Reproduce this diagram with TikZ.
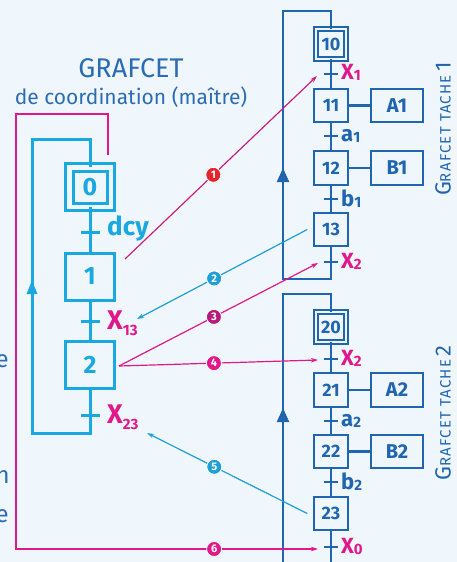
\documentclass[tikz,border=0pt]{standalone}
\usepackage{fontspec}
\setmainfont{Fira Sans}
\usetikzlibrary{positioning, arrows.meta}

\definecolor{bgpage}{HTML}{F0F7FC}
\definecolor{mastercol}{HTML}{1AA8E0}
\definecolor{taskcol}{HTML}{1F65B0}
\definecolor{titlecol}{HTML}{2B6CB4}
\definecolor{linkpink}{HTML}{E0188C}
\definecolor{linkplum}{HTML}{C8207E}
\definecolor{linkcyan}{HTML}{1E9FD6}
\definecolor{numred}{HTML}{E6242B}
\definecolor{numplum}{HTML}{B8197A}

% index below a letter: size, drop, text
\newcommand{\lowidx}[3]{\raisebox{-#2}{\fontsize{#1}{#1}\selectfont #3}}

\begin{document}
\begin{tikzpicture}[
  x=1pt, y=-1pt,
  mstep/.style={draw=mastercol, line width=3pt, minimum width=49pt, minimum height=47pt,
    inner sep=0pt, outer sep=0pt, text=mastercol, font=\fontsize{25}{25}\selectfont\bfseries},
  minit/.style={mstep, double=bgpage, double distance=4.5pt, minimum width=41.5pt, minimum height=39.5pt},
  tstep/.style={draw=taskcol, line width=2.2pt, minimum size=33.5pt,
    inner sep=0pt, outer sep=0pt, text=taskcol, font=\fontsize{18}{18}\selectfont\bfseries},
  tinit/.style={tstep, double=bgpage, double distance=1.8pt, minimum size=29.8pt},
  action/.style={tstep, minimum width=52pt, font=\fontsize{20}{20}\selectfont\bfseries},
  mline/.style={draw=mastercol, line width=3pt},
  tline/.style={draw=taskcol, line width=2.2pt},
  mlabel/.style={inner sep=0pt, anchor=west, font=\fontsize{27}{27}\selectfont\bfseries},
  tlabel/.style={inner sep=0pt, anchor=west, font=\fontsize{22}{22}\selectfont\bfseries},
  title/.style={text=titlecol, inner sep=0pt},
  tasktitle/.style={rotate=90, text=taskcol, inner sep=0pt},
  link/.style={line width=1.2pt, -{Stealth[length=7pt, width=4.5pt]}},
  num/.style={circle, draw=white, line width=0.8pt, text=white, inner sep=0pt,
    minimum size=15pt, font=\fontsize{11}{11}\selectfont\bfseries}
]

\fill[bgpage] (0,0) rectangle (457,562);
\useasboundingbox (0,0) rectangle (457,562);

% -------------------------
% Titles
% -------------------------

\node[title, font=\fontsize{27}{27}\selectfont] (ttl) at (131,68) {GRAFCET};
\node[title, font=\fontsize{21}{21}\selectfont, below=9pt of ttl] (subttl) {de coordination (maître)};

% cut text on the left border
\node[text=titlecol, inner sep=0pt, anchor=base east, font=\fontsize{24}{24}\selectfont] (cut1) at (9,367) {e};
\node[text=titlecol, inner sep=0pt, anchor=base east, font=\fontsize{24}{24}\selectfont] (cut2) at (10,483) {n};
\node[text=titlecol, inner sep=0pt, anchor=base east, font=\fontsize{24}{24}\selectfont] (cut3) at (9,522) {e};

% -------------------------
% Master grafcet
% -------------------------

\node[minit] (s0) at (90,187) {0};
\node[mstep] (s1) at (90,276.5) {1};
\node[mstep] (s2) at (90,364.5) {2};

\coordinate (tdcy) at (90,232);
\coordinate (tx13) at (90,321);
\coordinate (tx23) at (90,415);
\coordinate (mtop) at (32,139);
\coordinate (mbot) at (32,433);
\coordinate (marrow) at (32,280);

\draw[mline] (s0.south) -- (s1.north);
\draw[mline] (s1.south) -- (s2.north);
\draw[mline] (s2.south) -- (tx23);
\draw[mline] (s0.north) |- (mtop) -- (mbot) -| (tx23);
\draw[mline, -{Triangle[length=14pt, width=10pt]}] (mbot) -- (marrow);

\foreach \t in {tdcy, tx13, tx23}
  \draw[mline] ([xshift=-9.5pt]\t) -- ([xshift=9.5pt]\t);

\node[mlabel, text=mastercol, font=\fontsize{26}{26}\selectfont\bfseries, right=17pt of tdcy, yshift=3pt] (ldcy) {dcy};
\node[mlabel, text=linkpink, right=17pt of tx13, yshift=-2pt] (lx13) {X\lowidx{15}{6pt}{13}};
\node[mlabel, text=linkpink, right=17pt of tx23, yshift=-2pt] (lx23) {X\lowidx{15}{6pt}{23}};

% -------------------------
% Task 1
% -------------------------

\node[tinit] (s10) at (331,44) {10};
\node[tstep] (s11) at (331,105.5) {11};
\node[tstep] (s12) at (331,168) {12};
\node[tstep] (s13) at (331,229.5) {13};
\node[action] (a1) at (397,105.5) {A1};
\node[action] (b1) at (397,168) {B1};

\coordinate (tx1) at (331,74);
\coordinate (ta1) at (331,136);
\coordinate (tb1) at (331,199);
\coordinate (tx2a) at (331,262);
\coordinate (t1top) at (283,11);
\coordinate (t1bot) at (283,279);
\coordinate (t1arrow) at (283,168);

\draw[tline] (s10) -- (s11) -- (s12) -- (s13);
\draw[tline] (s13.south) -- (tx2a);
\draw[tline] (s10.north) |- (t1top) -- (t1bot) -| (tx2a);
\draw[tline, -{Triangle[length=14pt, width=12pt]}] (t1bot) -- (t1arrow);
\draw[tline] (s11) -- (a1);
\draw[tline] (s12) -- (b1);

\foreach \t in {tx1, ta1, tb1, tx2a}
  \draw[tline] ([xshift=-7pt]\t) -- ([xshift=7pt]\t);

\node[tlabel, text=linkpink, right=10pt of tx1, yshift=2pt] (lx1) {X\lowidx{15}{1pt}{1}};
\node[tlabel, text=taskcol, right=10pt of ta1] (la1) {a\lowidx{15}{1pt}{1}};
\node[tlabel, text=taskcol, right=10pt of tb1] (lb1) {b\lowidx{15}{1pt}{1}};
\node[tlabel, text=linkpink, right=10pt of tx2a, yshift=1pt] (lx2a) {X\lowidx{15}{1pt}{2}};

\node[tasktitle] (task1) at (443,129)
  {\addfontfeature{LetterSpace=8}{\fontsize{22}{22}\selectfont G}{\fontsize{15}{15}\selectfont RAFCET TACHE} {\fontsize{22}{22}\selectfont 1}};

% -------------------------
% Task 2
% -------------------------

\node[tinit] (s20) at (331,327) {20};
\node[tstep] (s21) at (331,390) {21};
\node[tstep] (s22) at (331,451.5) {22};
\node[tstep] (s23) at (331,513.5) {23};
\node[action] (a2) at (397,390) {A2};
\node[action] (b2) at (397,451.5) {B2};

\coordinate (tx2b) at (331,359);
\coordinate (ta2) at (331,421);
\coordinate (tb2) at (331,482);
\coordinate (tx0) at (331,547);
\coordinate (t2top) at (283,294);
\coordinate (t2bot) at (283,575);
\coordinate (t2end) at (331,575);
\coordinate (t2arrow) at (283,408);

\draw[tline] (s20) -- (s21) -- (s22) -- (s23);
\draw[tline] (s23.south) -- (t2end);
\draw[tline] (s20.north) |- (t2top) -- (t2bot);
\draw[tline, -{Triangle[length=14pt, width=12pt]}] (t2bot) -- (t2arrow);
\draw[tline] (s21) -- (a2);
\draw[tline] (s22) -- (b2);

\foreach \t in {tx2b, ta2, tb2, tx0}
  \draw[tline] ([xshift=-7pt]\t) -- ([xshift=7pt]\t);

\node[tlabel, text=linkpink, right=10pt of tx2b, yshift=1pt] (lx2b) {X\lowidx{15}{1pt}{2}};
\node[tlabel, text=taskcol, right=10pt of ta2] (la2) {a\lowidx{15}{1pt}{2}};
\node[tlabel, text=taskcol, right=10pt of tb2] (lb2) {b\lowidx{15}{1pt}{2}};
\node[tlabel, text=linkpink, right=10pt of tx0, yshift=1pt] (lx0) {X\lowidx{15}{1pt}{0}};

\node[tasktitle] (task2) at (443,413)
  {\addfontfeature{LetterSpace=8}{\fontsize{22}{22}\selectfont G}{\fontsize{15}{15}\selectfont RAFCET TACHE} {\fontsize{22}{22}\selectfont 2}};

% -------------------------
% Coordination links
% -------------------------

\draw[link, linkplum] ([xshift=10.5pt,yshift=-6pt]s1.north east) -- ([xshift=-14pt,yshift=-2pt]tx1)
  node[num, fill=numred, pos=0.46] {1};
\draw[link, linkcyan] ([xshift=-7pt]s13.west) -- ([xshift=47pt,yshift=2pt]tx13)
  node[num, fill=linkcyan, pos=0.547] {2};
\draw[link, linkpink] ([xshift=4.5pt,yshift=-1.5pt]s2.east) -- ([xshift=-13pt,yshift=-1pt]tx2a)
  node[num, fill=numplum, pos=0.477] {3};
\draw[link, linkpink] ([xshift=4.5pt,yshift=-1.5pt]s2.east) -- ([xshift=-13pt,yshift=-1pt]tx2b)
  node[num, fill=linkpink, pos=0.477] {4};
\draw[link, linkcyan] ([xshift=-7pt]s23.west) -- ([xshift=57pt,yshift=-18pt]tx23)
  node[num, fill=linkcyan, pos=0.58] {5};

\coordinate (m6corner) at (16,114);
\draw[link, linkpink] ([xshift=-2.75pt,yshift=12pt]s0.north east) |- (m6corner)
  |- ([xshift=-13pt,yshift=-2pt]tx0) node[num, fill=linkpink, pos=0.828] {6};

\end{tikzpicture}
\end{document}
